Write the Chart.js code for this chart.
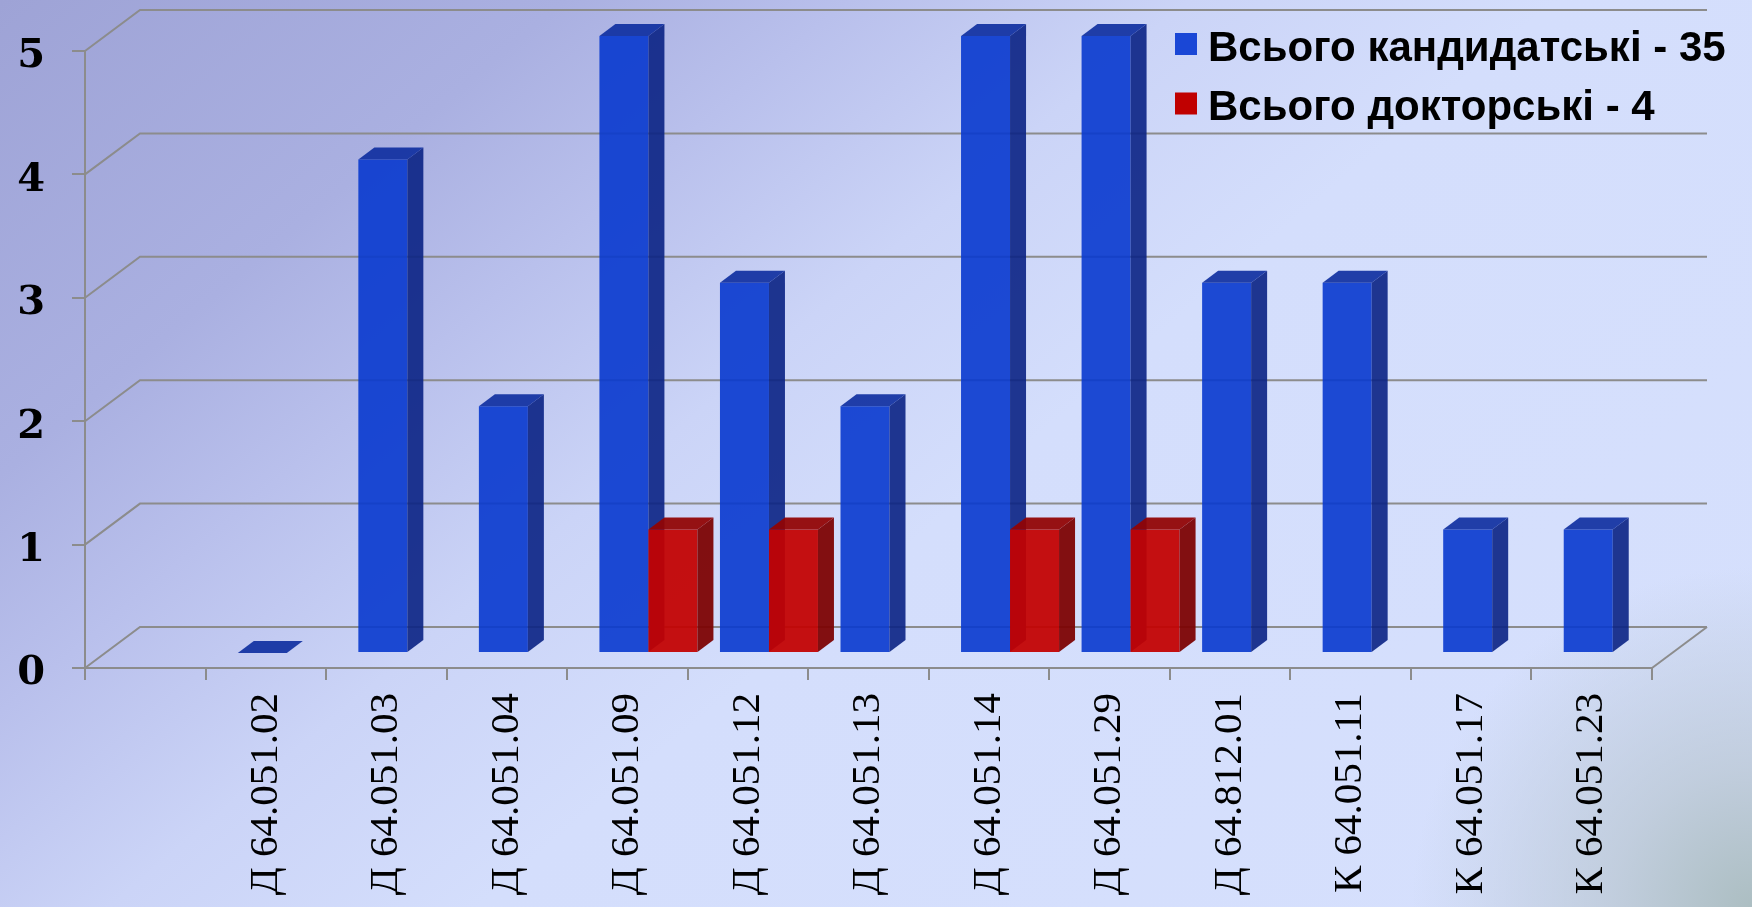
<!DOCTYPE html>
<html>
<head>
<meta charset="utf-8">
<script src="https://cdn.jsdelivr.net/npm/chart.js@4.4.1/dist/chart.umd.min.js"></script>
<style>
html,body{margin:0;padding:0;width:1752px;height:907px;overflow:hidden;}
body{
  background:
    radial-gradient(circle at 100% 100%, rgba(172,190,194,1) 0px, rgba(188,201,214,0.8) 140px, rgba(212,222,252,0) 340px),
    linear-gradient(140deg, #9ea3d6 0%, #aab0e1 20%, #b9c0ec 30%, #cbd4f7 42%, #d4defc 55%, #d6e0fd 100%);
}
canvas{display:block;}
</style>
</head>
<body>
<canvas id="c" width="1752" height="907"></canvas>
<script>
// ---- data ----
const categories = ['', 'Д 64.051.02', 'Д 64.051.03', 'Д 64.051.04', 'Д 64.051.09', 'Д 64.051.12', 'Д 64.051.13', 'Д 64.051.14', 'Д 64.051.29', 'Д 64.812.01', 'К 64.051.11', 'К 64.051.17', 'К 64.051.23'];
const candidateValues = [null, 0, 4, 2, 5, 3, 2, 5, 5, 3, 3, 1, 1];
const doctorValues    = [null, null, null, null, 1, 1, null, 1, 1, null, null, null, null];
const seriesNames = ['Всього кандидатські - 35', 'Всього докторські - 4'];
const yTicks = [0, 1, 2, 3, 4, 5];

// ---- 3D geometry (styling) ----
const TX = 21, TY = -15;      // bar plane offset from front plane
const BDX = 16, BDY = -12;    // bar depth
const WDX = 55, WDY = -41;    // wall depth
const GRID = '#8c8c8c';

function drawFaces(ctx, ds, meta) {
  meta.data.forEach((el, i) => {
    if (ds.data[i] === null || ds.data[i] === undefined) return;
    const p = el.getProps(['x', 'y', 'base', 'width'], true);
    const l = p.x - p.width / 2, r = p.x + p.width / 2;
    const top = Math.min(p.y, p.base), bot = Math.max(p.y, p.base);
    if (bot - top > 0.5) {
      ctx.fillStyle = ds.sideColor;
      ctx.beginPath();
      ctx.moveTo(r, top);
      ctx.lineTo(r + BDX, top + BDY);
      ctx.lineTo(r + BDX, bot + BDY);
      ctx.lineTo(r, bot);
      ctx.closePath();
      ctx.fill();
    }
    ctx.fillStyle = ds.topColor;
    ctx.beginPath();
    ctx.moveTo(l, top);
    ctx.lineTo(r, top);
    ctx.lineTo(r + BDX, top + BDY);
    ctx.lineTo(l + BDX, top + BDY);
    ctx.closePath();
    ctx.fill();
  });
}

const wallPlugin = {
  id: 'wall3d',
  beforeDatasetsDraw(chart) {
    const {ctx, chartArea: a, scales: {y}} = chart;
    ctx.save();
    ctx.strokeStyle = GRID;
    ctx.lineWidth = 2;
    yTicks.forEach(v => {
      const p = y.getPixelForValue(v);
      ctx.beginPath();
      ctx.moveTo(a.left, p);
      ctx.lineTo(a.left + WDX, p + WDY);
      ctx.lineTo(a.right + WDX, p + WDY);
      ctx.stroke();
    });
    ctx.beginPath();
    ctx.moveTo(a.right, a.bottom);
    ctx.lineTo(a.right + WDX, a.bottom + WDY);
    ctx.stroke();
    ctx.restore();
  },
  // skip the default pass; series are drawn left-to-right below so red fronts cover blue sides
  beforeDatasetDraw() { return false; },
  afterDatasetsDraw(chart) {
    const ctx = chart.ctx;
    ctx.save();
    ctx.translate(TX, TY);
    chart.data.datasets.forEach((ds, idx) => {
      const meta = chart.getDatasetMeta(idx);
      meta.controller.draw();
      drawFaces(ctx, ds, meta);
    });
    ctx.restore();
  }
};

const legendPlugin = {
  id: 'legend3d',
  afterDraw(chart) {
    const ctx = chart.ctx;
    ctx.save();
    ctx.font = 'bold 42px "Liberation Sans", Arial, sans-serif';
    ctx.textBaseline = 'alphabetic';
    ctx.textAlign = 'left';
    chart.data.datasets.forEach((ds, i) => {
      const yb = 60.5 + i * 59.5;
      ctx.fillStyle = ds.legendColor;
      ctx.fillRect(1175, 33 + i * 59.5, 22, 22);
      ctx.fillStyle = '#000';
      ctx.fillText(ds.label, 1208, yb);
    });
    ctx.restore();
  }
};

new Chart(document.getElementById('c'), {
  type: 'bar',
  data: {
    labels: categories,
    datasets: [
      {
        label: seriesNames[0],
        data: candidateValues,
        backgroundColor: 'rgba(8,56,206,0.9)',
        sideColor: 'rgba(10,34,132,0.9)',
        topColor: 'rgba(12,44,158,0.9)',
        legendColor: '#1a47d6',
        borderWidth: 0,
        clip: false
      },
      {
        label: seriesNames[1],
        data: doctorValues,
        backgroundColor: 'rgba(194,2,2,0.94)',
        sideColor: 'rgba(124,2,2,0.94)',
        topColor: 'rgba(146,4,4,0.94)',
        legendColor: '#c00000',
        borderWidth: 0,
        clip: false
      }
    ]
  },
  options: {
    responsive: false,
    devicePixelRatio: 1,
    animation: false,
    categoryPercentage: 0.813,
    barPercentage: 1,
    layout: {padding: {top: 51, right: 100, left: 0, bottom: 0}},
    plugins: {legend: {display: false}, tooltip: {enabled: false}},
    scales: {
      x: {
        grid: {display: true, drawOnChartArea: false, drawTicks: true, tickLength: 12, color: GRID, lineWidth: 2, offset: true},
        border: {display: true, color: GRID, width: 2},
        ticks: {
          autoSkip: false, minRotation: 90, maxRotation: 90, padding: 13,
          color: '#000',
          font: {family: '"Liberation Serif", "Times New Roman", serif', size: 41}
        },
        afterFit(s) { s.height = 239; }
      },
      y: {
        min: 0, max: 5,
        grid: {display: true, drawOnChartArea: false, drawTicks: true, tickLength: 13, color: GRID, lineWidth: 2},
        border: {display: true, color: GRID, width: 2},
        afterBuildTicks(s) { s.ticks = yTicks.map(v => ({value: v})); },
        ticks: {
          padding: 27, labelOffset: 6, color: '#000',
          font: {family: '"DejaVu Serif", serif', size: 40, weight: 'bold'}
        },
        afterFit(s) { s.width = 85; }
      }
    }
  },
  plugins: [wallPlugin, legendPlugin]
});
</script>
</body>
</html>
